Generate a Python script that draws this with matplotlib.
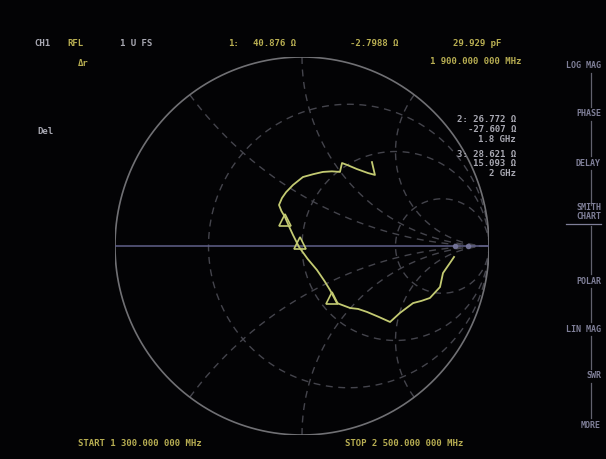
import numpy as np
import matplotlib
matplotlib.use("Agg")
import matplotlib.pyplot as plt
from matplotlib.lines import Line2D

# ---------------- data ----------------
# reflection coefficient trace (real / imaginary parts of Gamma)
trace_re = [0.374, 0.390, 0.353, 0.294, 0.241, 0.214, 0.203, 0.160, 0.112, 0.060, 0.005,
            -0.048, -0.085, -0.107, -0.123, -0.110, -0.091, -0.070, -0.048, -0.016,
            0.030, 0.080, 0.120, 0.150, 0.187, 0.257, 0.300, 0.348, 0.410, 0.471,
            0.524, 0.594, 0.640, 0.684, 0.738, 0.754, 0.791, 0.813]
trace_im = [0.444, 0.376, 0.386, 0.407, 0.429, 0.439, 0.392, 0.395, 0.392, 0.380, 0.365,
            0.323, 0.285, 0.254, 0.217, 0.185, 0.153, 0.105, 0.058, -0.005,
            -0.068, -0.127, -0.185, -0.233, -0.302, -0.328, -0.333, -0.349, -0.375, -0.402,
            -0.354, -0.302, -0.290, -0.275, -0.217, -0.143, -0.090, -0.058]
marker_re = [-0.011, -0.091, 0.160]
marker_im = [0.016, 0.138, -0.275]

r_grid = [1/3, 1.0, 3.0]
x_grid = [0.5, 1.0, 2.0, -0.5, -1.0, -2.0]

header_left = ["CH1", "RFL", "1 U FS"]
marker1_vals = ["1:", "40.876 Ω", "-2.7988 Ω", "29.929 pF"]
marker_freq = "1 900.000 000 MHz"
marker2_lines = ["2: 26.772 Ω", "-27.607 Ω", "1.8 GHz"]
marker3_lines = ["3: 28.621 Ω", "15.093 Ω", "2 GHz"]
start_label = "START 1 300.000 000 MHz"
stop_label = "STOP 2 500.000 000 MHz"
menu_labels = ["LOG MAG", "PHASE", "DELAY", "SMITH\nCHART", "POLAR", "LIN MAG", "SWR", "MORE"]

# ---------------- figure ----------------
W, H = 606, 459
BG = "#030305"
GRID = "#44444c"
OUTER = "#707074"
AXIS = "#60608a"
TRACE = "#c3ca72"
YEL = "#b8ae52"
WHT = "#a8a8b2"
MENU = "#7f7f98"

fig = plt.figure(figsize=(W / 100, H / 100), dpi=100, facecolor=BG)
cx, cy, rx, ry = 302, 246, 187, 189
ax = fig.add_axes([(cx - rx) / W, (H - (cy + ry)) / H, 2 * rx / W, 2 * ry / H])
ax.set_facecolor(BG)
ax.set_xlim(-1, 1)
ax.set_ylim(-1, 1)
ax.axis("off")


def gamma(z):
    return (z - 1) / (z + 1)


# constant resistance circles
t = np.tan(np.linspace(-np.pi / 2 + 1e-4, np.pi / 2 - 1e-4, 800))
for r in r_grid:
    g = gamma(r + 1j * t)
    ax.plot(g.real, g.imag, color=GRID, lw=1.0, ls=(0, (5, 4)))

# constant reactance arcs
rr = np.logspace(-4, 4, 800)
for x in x_grid:
    g = gamma(rr + 1j * x)
    ax.plot(g.real, g.imag, color=GRID, lw=1.0, ls=(0, (5, 4)))

# outer circle and real axis
th = np.linspace(0, 2 * np.pi, 600)
ax.plot(np.cos(th), np.sin(th), color=OUTER, lw=1.2)
ax.plot([-1, 1], [0, 0], color=AXIS, lw=1.1)
ax.plot([0.82, 0.89], [0, 0], marker="o", ms=3, color="#7a7aa0", lw=0, alpha=0.8)

# trace
ax.plot(trace_re, trace_im, color=TRACE, lw=1.3)
ax.plot(marker_re, marker_im, ls="none", marker="^", ms=8, mfc="none", mec=TRACE, mew=1.2)

# ---------------- texts ----------------
MONO = "DejaVu Sans Mono"
FS = 6.5


def ftext(x, y, s, color, ha="left", **kw):
    fig.text(x / W, 1 - y / H, s, color=color, ha=ha, va="center",
             family=MONO, fontsize=FS, fontweight="bold", **kw)


ftext(34, 44, header_left[0], WHT)
ftext(67, 44, header_left[1], YEL)
ftext(120, 44, header_left[2], WHT)
ftext(78, 63, "Δr", YEL)
ftext(37, 131, "Del", WHT)

ftext(228, 43, marker1_vals[0], YEL)
ftext(253, 43, marker1_vals[1], YEL)
ftext(350, 43, marker1_vals[2], YEL)
ftext(453, 43, marker1_vals[3], YEL)
ftext(521, 62, marker_freq, YEL, ha="right")

for i, s in enumerate(marker2_lines):
    ftext(516, 120 + i * 10, s, WHT, ha="right")
for i, s in enumerate(marker3_lines):
    ftext(516, 154 + i * 10, s, WHT, ha="right")

ftext(78, 443, start_label, YEL)
ftext(345, 443, stop_label, YEL)

# softkey menu
menu_y = [66, 114, 163, 212, 281, 329, 376, 425]
for s, y in zip(menu_labels, menu_y):
    fig.text(601 / W, 1 - y / H, s, color=MENU, ha="right", va="center",
             family=MONO, fontsize=FS - 0.5, fontweight="bold", linespacing=1.1)
fig.add_artist(Line2D([566 / W, 601 / W], [1 - 224 / H, 1 - 224 / H], color=MENU, lw=0.9))
for y0, y1 in zip(menu_y[:-1], menu_y[1:]):
    top = y0 + (14 if y0 == 212 else 7)
    bot = y1 - 7
    fig.add_artist(Line2D([591 / W, 591 / W], [1 - top / H, 1 - bot / H], color="#62626e", lw=0.9))

fig.savefig("out.png", dpi=100, facecolor=BG)
